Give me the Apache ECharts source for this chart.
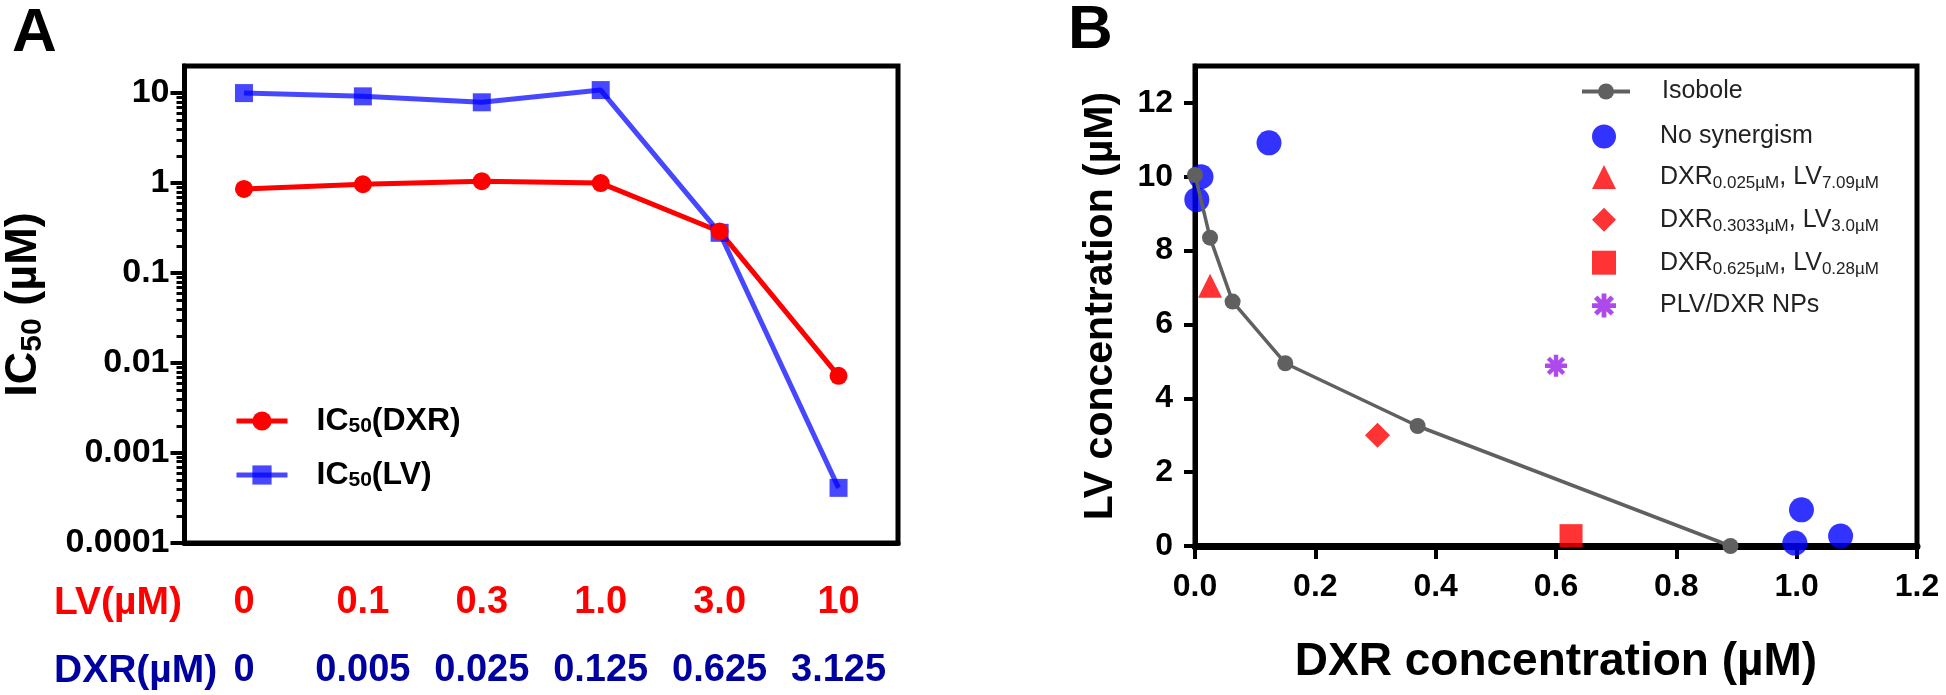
<!DOCTYPE html>
<html><head><meta charset="utf-8">
<script src="https://cdn.jsdelivr.net/npm/echarts@6/dist/echarts.min.js"></script>
<style>html,body{margin:0;padding:0;background:#fff}#c{width:1946px;height:695px}</style>
</head><body><div id="c"></div>
<script>
// ---------- Panel A data ----------
const lvLabels  = ['0', '0.1', '0.3', '1.0', '3.0', '10'];
const dxrLabels = ['0', '0.005', '0.025', '0.125', '0.625', '3.125'];
const ic50DXR   = [0.86, 0.97, 1.05, 1.0, 0.29, 0.0072];
const ic50LV    = [10.0, 9.2, 7.9, 10.8, 0.28, 0.00041];
const logTicks      = [0.0001, 0.001, 0.01, 0.1, 1, 10];
const logTickLabels = ['0.0001', '0.001', '0.01', '0.1', '1', '10'];

// ---------- Panel B data ----------
const isoboleX = [0, 0.025, 0.0625, 0.15, 0.37, 0.89];
const isoboleY = [10.05, 8.35, 6.62, 4.95, 3.25, 0];
const noSynX   = [0.003, 0.01, 0.123, 0.997, 1.008, 1.073];
const noSynY   = [9.38, 10.0, 10.92, 0.08, 0.98, 0.27];
const combo1   = [0.025, 7.05];
const combo2   = [0.3033, 3.0];
const combo3   = [0.625, 0.28];
const npPoint  = [0.60, 4.88];
const bXTicks  = [0, 0.2, 0.4, 0.6, 0.8, 1.0, 1.2];
const bYTicks  = [0, 2, 4, 6, 8, 10, 12];

const FONT = '"Liberation Sans", Arial, Helvetica, sans-serif';
const minorLogTicks = [];
logTicks.slice(0, -1).forEach(t => { for (let m = 2; m <= 9; m++) minorLogTicks.push(+(m * t).toPrecision(3)); });

const asterisk = 'path://M0 40L100 40L100 60L0 60Z M40 0L60 0L60 100L40 100Z ' +
  'M22.4 8.3L91.7 77.6L77.6 91.7L8.3 22.4Z M91.7 22.4L22.4 91.7L8.3 77.6L77.6 8.3Z';

const legendBText = {
  'Isobole': '{m|Isobole}',
  'No synergism': '{m|No synergism}',
  'c1': '{m|DXR}{s|0.025µM}{m|, LV}{s|7.09µM}',
  'c2': '{m|DXR}{s|0.3033µM}{m|, LV}{s|3.0µM}',
  'c3': '{m|DXR}{s|0.625µM}{m|, LV}{s|0.28µM}',
  'PLV/DXR NPs': '{m|PLV/DXR NPs}'
};
const legendBRich = {
  m: { fontSize: 25, fontFamily: FONT, color: '#222', lineHeight: 30 },
  s: { fontSize: 17, fontFamily: FONT, color: '#222', lineHeight: 17, verticalAlign: 'bottom' }
};

const zip = (a, b) => a.map((v, i) => [v, b[i]]);
const axisBlack = { color: '#000', width: 5 };
const tickBlack = { color: '#000', width: 4 };

const chart = echarts.init(document.getElementById('c'));
chart.setOption({
  animation: false,
  backgroundColor: '#fff',
  textStyle: { fontFamily: FONT },
  graphic: [
    { type: 'text', left: 12, top: 3, style: { text: 'A', fontSize: 62, fontWeight: 'bold', fontFamily: FONT, fill: '#000' } },
    { type: 'text', left: 1068, top: 0, style: { text: 'B', fontSize: 62, fontWeight: 'bold', fontFamily: FONT, fill: '#000' } },
    { type: 'text', left: 54, top: 584, style: { text: 'LV(µM)', fontSize: 39, fontWeight: 'bold', fontFamily: FONT, fill: '#ff0000' } },
    { type: 'text', left: 54, top: 652, style: { text: 'DXR(µM)', fontSize: 39, fontWeight: 'bold', fontFamily: FONT, fill: '#0000a0' } }
  ],
  grid: [
    { left: 183, top: 66, width: 715, height: 477, show: true, borderColor: '#000', borderWidth: 5 },
    { left: 1195, top: 66, width: 722, height: 480, show: true, borderColor: '#000', borderWidth: 5 }
  ],
  legend: [
    {
      data: ['IC50(DXR)', 'IC50(LV)'], orient: 'vertical', left: 229, top: 400,
      itemWidth: 51, itemHeight: 24, itemGap: 22,
      lineStyle: { width: 5 },
      formatter: n => n === 'IC50(DXR)' ? '{m|IC}{s|50}{m|(DXR)}' : '{m|IC}{s|50}{m|(LV)}',
      textStyle: {
        padding: [0, 0, 0, 24],
        rich: {
          m: { fontSize: 32, fontWeight: 'bold', fontFamily: FONT, color: '#000', lineHeight: 32 },
          s: { fontSize: 21, fontWeight: 'bold', fontFamily: FONT, color: '#000', lineHeight: 21, verticalAlign: 'bottom' }
        }
      }
    },
    {
      data: ['Isobole'], orient: 'vertical', left: 1575, top: 74,
      itemWidth: 48, itemHeight: 20, itemGap: 15,
      lineStyle: { width: 4 },
      formatter: n => legendBText[n],
      textStyle: { padding: [0, 0, 0, 27], rich: legendBRich }
    },
    {
      data: ['No synergism', 'c1', 'c2', 'c3', 'PLV/DXR NPs'], orient: 'vertical', left: 1587, top: 119,
      itemWidth: 24, itemHeight: 24, itemGap: 15.4,
      formatter: n => legendBText[n],
      textStyle: { padding: [0, 0, 0, 39], rich: legendBRich }
    }
  ],
  xAxis: [
    {
      gridIndex: 0, type: 'category', data: lvLabels, boundaryGap: true,
      axisLine: { lineStyle: axisBlack },
      axisTick: { alignWithLabel: true, length: 12, lineStyle: tickBlack },
      axisLabel: {
        interval: 0, margin: 26,
        formatter: (v, i) => '{lv|' + lvLabels[i] + '}\n{dx|' + dxrLabels[i] + '}',
        rich: {
          lv: { color: '#ff0000', fontSize: 38, fontWeight: 'bold', fontFamily: FONT, lineHeight: 68 },
          dx: { color: '#0000a0', fontSize: 38, fontWeight: 'bold', fontFamily: FONT, lineHeight: 68 }
        }
      },
      splitLine: { show: false }
    },
    {
      gridIndex: 1, type: 'value', min: 0, max: 1.2, interval: 0.2,
      axisLine: { lineStyle: { color: '#000', width: 7 } },
      axisTick: { length: 13, lineStyle: tickBlack, customValues: bXTicks },
      axisLabel: { customValues: bXTicks, formatter: v => v.toFixed(1), fontSize: 32, fontWeight: 'bold', color: '#000', margin: 25, fontFamily: FONT },
      splitLine: { show: false },
      name: 'DXR concentration (µM)', nameLocation: 'middle', nameGap: 93,
      nameTextStyle: { fontSize: 46, fontWeight: 'bold', color: '#000', fontFamily: FONT }
    }
  ],
  yAxis: [
    {
      gridIndex: 0, type: 'log', logBase: 10, min: 0.0001, max: 20,
      axisLine: { show: true, lineStyle: axisBlack },
      axisTick: { show: true, length: 14, lineStyle: tickBlack, customValues: logTicks },
      axisLabel: {
        customValues: logTicks, margin: 15, fontSize: 34, fontWeight: 'bold', color: '#000', fontFamily: FONT,
        formatter: v => { const i = logTicks.findIndex(t => Math.abs(Math.log10(t) - Math.log10(v)) < 1e-6); return i >= 0 ? logTickLabels[i] : ''; }
      },
      splitLine: { show: false },
      name: '{m|IC}{s|50}{m| (µM)}', nameLocation: 'middle', nameGap: 137,
      nameTextStyle: {
        rich: {
          m: { fontSize: 45, fontWeight: 'bold', color: '#000', fontFamily: FONT, lineHeight: 48 },
          s: { fontSize: 30, fontWeight: 'bold', color: '#000', fontFamily: FONT, lineHeight: 30, verticalAlign: 'bottom' }
        }
      }
    },
    {
      gridIndex: 0, type: 'log', logBase: 10, min: 0.0001, max: 20, position: 'left',
      axisLine: { show: false },
      axisTick: { show: true, length: 8, lineStyle: { color: '#000', width: 3 }, customValues: minorLogTicks },
      axisLabel: { show: false },
      splitLine: { show: false }
    },
    {
      gridIndex: 1, type: 'value', min: 0, max: 13,
      axisLine: { show: true, lineStyle: axisBlack },
      axisTick: { show: true, length: 11, lineStyle: tickBlack, customValues: bYTicks },
      axisLabel: { customValues: bYTicks, fontSize: 32, fontWeight: 'bold', color: '#000', margin: 22, fontFamily: FONT },
      splitLine: { show: false },
      name: 'LV concentration (µM)', nameLocation: 'middle', nameGap: 74,
      nameTextStyle: { fontSize: 41, fontWeight: 'bold', color: '#000', fontFamily: FONT }
    }
  ],
  series: [
    {
      name: 'IC50(LV)', type: 'line', xAxisIndex: 0, yAxisIndex: 0, data: ic50LV,
      symbol: 'rect', symbolSize: 18, clip: false,
      itemStyle: { color: 'rgba(0,0,255,0.72)' }, lineStyle: { color: 'rgba(0,0,255,0.72)', width: 5 }
    },
    {
      name: 'IC50(DXR)', type: 'line', xAxisIndex: 0, yAxisIndex: 0, data: ic50DXR,
      symbol: 'circle', symbolSize: 18, clip: false,
      itemStyle: { color: '#ff0000' }, lineStyle: { color: '#ff0000', width: 5 }
    },
    {
      name: 'No synergism', type: 'scatter', xAxisIndex: 1, yAxisIndex: 2, data: zip(noSynX, noSynY),
      symbol: 'circle', symbolSize: 25, clip: false, itemStyle: { color: '#0000ff' }, z: 3
    },
    {
      name: 'Isobole', type: 'line', xAxisIndex: 1, yAxisIndex: 2, data: zip(isoboleX, isoboleY),
      symbol: 'circle', symbolSize: 16, clip: false, z: 4,
      itemStyle: { color: '#606060' }, lineStyle: { color: '#606060', width: 3.5 }
    },
    {
      name: 'c1', type: 'scatter', xAxisIndex: 1, yAxisIndex: 2, data: [combo1],
      symbol: 'triangle', symbolSize: 24, clip: false, itemStyle: { color: '#ff0000' }, z: 3
    },
    {
      name: 'c2', type: 'scatter', xAxisIndex: 1, yAxisIndex: 2, data: [combo2],
      symbol: 'diamond', symbolSize: 25, clip: false, itemStyle: { color: '#ff0000' }, z: 3
    },
    {
      name: 'c3', type: 'scatter', xAxisIndex: 1, yAxisIndex: 2, data: [combo3],
      symbol: 'rect', symbolSize: 23, clip: false, itemStyle: { color: '#ff0000' }, z: 3
    },
    {
      name: 'PLV/DXR NPs', type: 'scatter', xAxisIndex: 1, yAxisIndex: 2, data: [npPoint],
      symbol: asterisk, symbolSize: 22, clip: false, itemStyle: { color: '#9a1ce6' }, z: 3
    }
  ]
});
</script>
</body></html>
